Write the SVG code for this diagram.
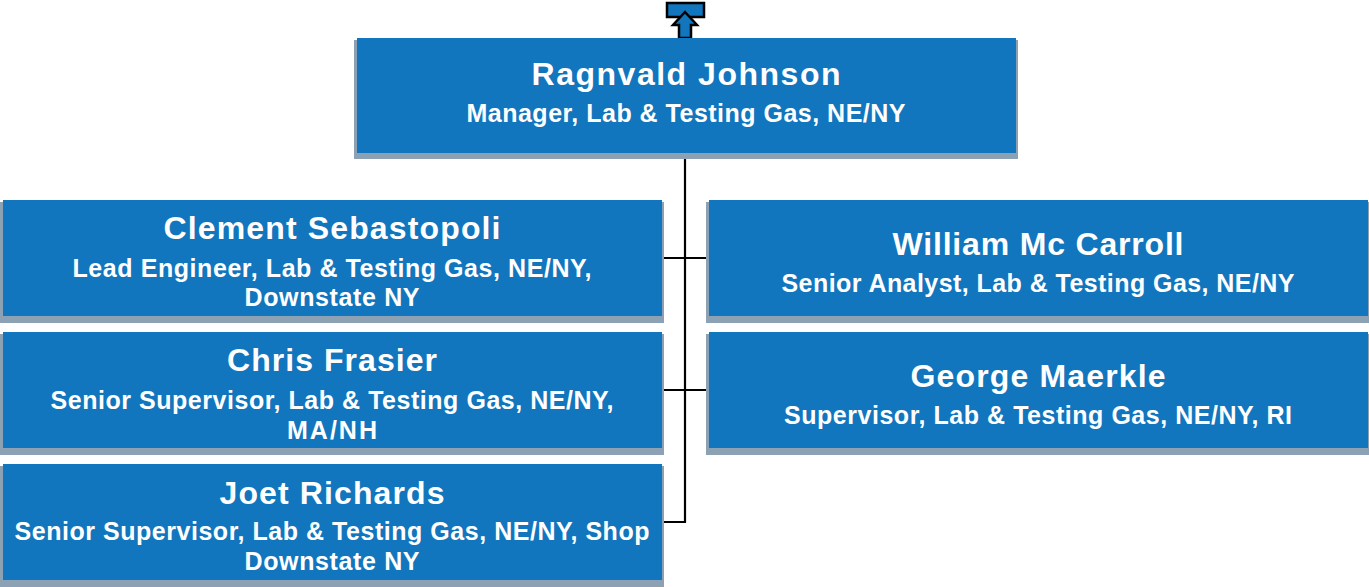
<svg xmlns="http://www.w3.org/2000/svg" width="1369" height="587" viewBox="0 0 1369 587">
<defs>
<style>
.sh{fill:#8ca2b4}
.bx{fill:#1176bd}
.nm{font-family:"Liberation Sans",Arial,sans-serif;font-weight:bold;font-size:32px;fill:#fff;text-anchor:middle}
.tt{font-family:"Liberation Sans",Arial,sans-serif;font-weight:bold;font-size:25px;fill:#fff;text-anchor:middle}
.ln{stroke:#000;stroke-width:2.2;fill:none}
</style>
</defs>
<rect width="1369" height="587" fill="#fff"/>
<g id="connectors">
<path class="ln" d="M685 153 V522 H662"/>
<path class="ln" d="M662 258 H709"/>
<path class="ln" d="M662 390 H709"/>
</g>
<g id="up-icon">
<rect x="667" y="3" width="37" height="14" fill="#1176bd" stroke="#000" stroke-width="2.5"/>
<polygon points="685,12 697,25 691,25 691,38 679,38 679,25 673,25" fill="#1176bd" stroke="#000" stroke-width="2.5" stroke-linejoin="miter"/>
</g>
<g id="n-ragnvald">
<rect class="sh" x="354" y="40" width="664" height="119"/>
<rect class="bx" x="357" y="38" width="659" height="115"/>
<text class="nm" x="686" y="85" textLength="309" lengthAdjust="spacing">Ragnvald Johnson</text>
<text class="tt" x="686" y="122" textLength="439" lengthAdjust="spacing">Manager, Lab &amp; Testing Gas, NE/NY</text>
</g>
<g id="n-clement">
<rect class="sh" x="0" y="202" width="664" height="121"/>
<rect class="bx" x="3" y="200" width="659" height="116"/>
<text class="nm" x="332" y="239" textLength="337" lengthAdjust="spacing">Clement Sebastopoli</text>
<text class="tt" x="332" y="277" textLength="519" lengthAdjust="spacing">Lead Engineer, Lab &amp; Testing Gas, NE/NY,</text>
<text class="tt" x="332" y="306" textLength="175" lengthAdjust="spacing">Downstate NY</text>
</g>
<g id="n-william">
<rect class="sh" x="706" y="202" width="663" height="121"/>
<rect class="bx" x="709" y="200" width="659" height="116"/>
<text class="nm" x="1038" y="255" textLength="291" lengthAdjust="spacing">William Mc Carroll</text>
<text class="tt" x="1038" y="292" textLength="513" lengthAdjust="spacing">Senior Analyst, Lab &amp; Testing Gas, NE/NY</text>
</g>
<g id="n-chris">
<rect class="sh" x="0" y="334" width="664" height="121"/>
<rect class="bx" x="3" y="332" width="659" height="116"/>
<text class="nm" x="332" y="371" textLength="210" lengthAdjust="spacing">Chris Frasier</text>
<text class="tt" x="332" y="409" textLength="563" lengthAdjust="spacing">Senior Supervisor, Lab &amp; Testing Gas, NE/NY,</text>
<text class="tt" x="332" y="439" textLength="90" lengthAdjust="spacing">MA/NH</text>
</g>
<g id="n-george">
<rect class="sh" x="706" y="334" width="663" height="121"/>
<rect class="bx" x="709" y="332" width="659" height="116"/>
<text class="nm" x="1038" y="387" textLength="255" lengthAdjust="spacing">George Maerkle</text>
<text class="tt" x="1038" y="424" textLength="508" lengthAdjust="spacing">Supervisor, Lab &amp; Testing Gas, NE/NY, RI</text>
</g>
<g id="n-joet">
<rect class="sh" x="0" y="466" width="664" height="121"/>
<rect class="bx" x="3" y="464" width="659" height="116"/>
<text class="nm" x="332" y="504" textLength="225" lengthAdjust="spacing">Joet Richards</text>
<text class="tt" x="332" y="540" textLength="635" lengthAdjust="spacing">Senior Supervisor, Lab &amp; Testing Gas, NE/NY, Shop</text>
<text class="tt" x="332" y="570" textLength="175" lengthAdjust="spacing">Downstate NY</text>
</g>
</svg>
